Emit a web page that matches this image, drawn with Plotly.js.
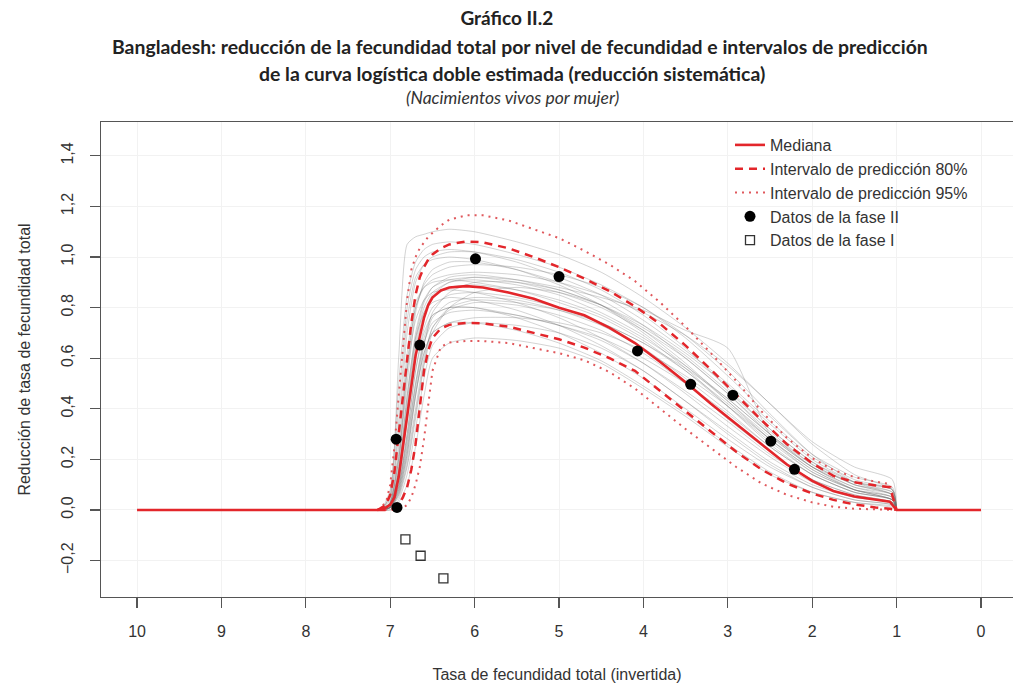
<!DOCTYPE html>
<html>
<head>
<meta charset="utf-8">
<script src="https://cdn.plot.ly/plotly-3.0.1.min.js"></script>
<style>html,body{margin:0;padding:0;background:#fff;overflow:hidden}</style>
</head>
<body>
<div id="chart" style="width:1013px;height:684px"></div>
<script>
// ---------- DATA ----------
const titleLine1 = 'Gráfico II.2';
const titleLine2 = 'Bangladesh: reducción de la fecundidad total por nivel de fecundidad e intervalos de predicción';
const titleLine3 = 'de la curva logística doble estimada (reducción sistemática)';
const subtitle = '(Nacimientos vivos por mujer)';
const xTitle = 'Tasa de fecundidad total (invertida)';
const yTitle = 'Reducción de tasa de fecundidad total';

const xTickVals = [10, 9, 8, 7, 6, 5, 4, 3, 2, 1, 0];
const yTickVals = [-0.2, 0, 0.2, 0.4, 0.6, 0.8, 1.0, 1.2, 1.4];

// Median curve
const medianX = [10, 7.15, 7.05, 7.0, 6.95, 6.9, 6.85, 6.8, 6.75, 6.7, 6.65, 6.6, 6.55, 6.5, 6.4, 6.3, 6.1, 5.9, 5.6, 5.3, 5.0, 4.7, 4.4, 4.1, 3.8, 3.5, 3.2, 2.9, 2.6, 2.3, 2.0, 1.75, 1.5, 1.25, 1.08, 1.0, 0];
const medianY = [0, 0, 0.01, 0.02, 0.05, 0.13, 0.25, 0.38, 0.49, 0.61, 0.69, 0.76, 0.81, 0.84, 0.868, 0.88, 0.885, 0.88, 0.86, 0.835, 0.8, 0.77, 0.72, 0.66, 0.585, 0.505, 0.42, 0.34, 0.26, 0.18, 0.115, 0.075, 0.053, 0.04, 0.033, 0, 0];

// Prediction intervals
const bandX = [7.15, 7.05, 7.0, 6.95, 6.9, 6.85, 6.8, 6.75, 6.7, 6.65, 6.6, 6.55, 6.5, 6.4, 6.3, 6.1, 5.9, 5.6, 5.3, 5.0, 4.7, 4.4, 4.1, 3.8, 3.5, 3.2, 2.9, 2.6, 2.3, 2.0, 1.75, 1.5, 1.25, 1.08, 1.0];
const upper80 = [0, 0.02, 0.06, 0.15, 0.3, 0.45, 0.6, 0.74, 0.85, 0.92, 0.96, 0.99, 1.01, 1.035, 1.05, 1.062, 1.058, 1.035, 1.0, 0.96, 0.915, 0.865, 0.805, 0.735, 0.65, 0.555, 0.455, 0.355, 0.26, 0.185, 0.135, 0.11, 0.097, 0.09, 0];
const lower80 = [0, 0, 0.003, 0.008, 0.02, 0.05, 0.09, 0.16, 0.26, 0.4, 0.55, 0.63, 0.68, 0.718, 0.732, 0.74, 0.738, 0.725, 0.7, 0.675, 0.642, 0.6, 0.55, 0.47, 0.39, 0.31, 0.23, 0.16, 0.105, 0.065, 0.04, 0.022, 0.01, 0.005, 0];
const upper95 = [0, 0.03, 0.1, 0.25, 0.45, 0.65, 0.83, 0.95, 1.0, 1.035, 1.06, 1.08, 1.095, 1.125, 1.148, 1.165, 1.165, 1.145, 1.11, 1.075, 1.025, 0.97, 0.905, 0.82, 0.725, 0.62, 0.51, 0.39, 0.285, 0.205, 0.158, 0.13, 0.112, 0.103, 0];
const lower95 = [0, 0, 0, 0, 0.003, 0.008, 0.02, 0.05, 0.1, 0.17, 0.28, 0.42, 0.55, 0.645, 0.662, 0.668, 0.668, 0.66, 0.64, 0.62, 0.592, 0.545, 0.48, 0.4, 0.32, 0.245, 0.17, 0.105, 0.06, 0.03, 0.013, 0.005, 0.002, 0, 0];

// Observed data
const phase2X = [6.93, 6.92, 6.65, 5.99, 5.0, 4.07, 3.44, 2.94, 2.49, 2.21];
const phase2Y = [0.28, 0.01, 0.652, 0.993, 0.923, 0.629, 0.497, 0.454, 0.272, 0.161];
const phase1X = [6.82, 6.64, 6.37];
const phase1Y = [-0.116, -0.181, -0.27];

// Simulated trajectories (grey)
const simX = [7.1, 7.0, 6.9, 6.8, 6.7, 6.6, 6.5, 6.3, 6.0, 5.5, 5.0, 4.5, 4.0, 3.5, 3.0, 2.5, 2.0, 1.5, 1.05, 1.0];
const simY = [
  [0, 0.06, 0.6, 1.05, 1.08, 1.09, 1.10, 1.11, 1.10, 1.06, 1.01, 0.94, 0.84, 0.72, 0.58, 0.42, 0.27, 0.17, 0.12, 0],
  [0, 0.08, 0.5, 0.85, 0.98, 1.03, 1.05, 1.06, 1.05, 1.01, 0.96, 0.89, 0.8, 0.68, 0.53, 0.37, 0.22, 0.13, 0.09, 0],
  [0, 0.05, 0.3, 0.7, 0.9, 0.97, 1.0, 1.02, 1.02, 0.99, 0.94, 0.87, 0.77, 0.64, 0.48, 0.32, 0.19, 0.11, 0.08, 0],
  [0, 0.03, 0.2, 0.5, 0.78, 0.9, 0.95, 0.98, 0.98, 0.95, 0.9, 0.83, 0.73, 0.6, 0.46, 0.31, 0.18, 0.1, 0.07, 0],
  [0, 0.02, 0.15, 0.42, 0.68, 0.82, 0.88, 0.92, 0.93, 0.91, 0.87, 0.81, 0.72, 0.61, 0.47, 0.32, 0.19, 0.1, 0.06, 0],
  [0, 0.02, 0.12, 0.35, 0.6, 0.76, 0.84, 0.88, 0.89, 0.87, 0.83, 0.77, 0.68, 0.57, 0.44, 0.3, 0.17, 0.09, 0.05, 0],
  [0, 0.01, 0.1, 0.3, 0.55, 0.72, 0.8, 0.85, 0.86, 0.84, 0.8, 0.74, 0.66, 0.55, 0.42, 0.28, 0.16, 0.08, 0.05, 0],
  [0, 0.01, 0.08, 0.25, 0.48, 0.66, 0.76, 0.82, 0.84, 0.83, 0.79, 0.73, 0.64, 0.52, 0.39, 0.25, 0.14, 0.07, 0.04, 0],
  [0, 0.01, 0.06, 0.2, 0.4, 0.6, 0.72, 0.79, 0.82, 0.81, 0.77, 0.71, 0.62, 0.5, 0.36, 0.23, 0.12, 0.06, 0.03, 0],
  [0, 0, 0.04, 0.14, 0.32, 0.52, 0.65, 0.72, 0.74, 0.73, 0.7, 0.64, 0.55, 0.43, 0.3, 0.18, 0.09, 0.04, 0.02, 0],
  [0, 0, 0.03, 0.1, 0.25, 0.45, 0.6, 0.66, 0.68, 0.67, 0.64, 0.58, 0.48, 0.37, 0.25, 0.14, 0.07, 0.03, 0.01, 0],
  [0, 0.02, 0.18, 0.55, 0.8, 0.88, 0.91, 0.93, 0.94, 0.93, 0.9, 0.85, 0.78, 0.69, 0.57, 0.42, 0.26, 0.14, 0.08, 0],
  [0, 0.02, 0.12, 0.38, 0.64, 0.78, 0.85, 0.9, 0.92, 0.91, 0.88, 0.84, 0.79, 0.71, 0.64, 0.3, 0.17, 0.11, 0.08, 0],
  [0, 0.04, 0.35, 0.75, 0.92, 0.97, 0.99, 1.0, 0.99, 0.95, 0.89, 0.81, 0.7, 0.57, 0.43, 0.29, 0.17, 0.09, 0.06, 0],
  [0, 0.01, 0.07, 0.22, 0.45, 0.65, 0.78, 0.86, 0.9, 0.9, 0.87, 0.81, 0.71, 0.58, 0.43, 0.28, 0.15, 0.08, 0.04, 0],
  [0, 0.01, 0.09, 0.28, 0.5, 0.68, 0.77, 0.8, 0.8, 0.77, 0.73, 0.68, 0.6, 0.5, 0.38, 0.25, 0.14, 0.07, 0.04, 0],
  [0, 0.03, 0.25, 0.62, 0.82, 0.88, 0.9, 0.91, 0.9, 0.87, 0.82, 0.76, 0.67, 0.55, 0.41, 0.27, 0.15, 0.08, 0.05, 0],
  [0, 0.01, 0.05, 0.17, 0.36, 0.57, 0.7, 0.8, 0.86, 0.88, 0.86, 0.81, 0.73, 0.62, 0.49, 0.34, 0.2, 0.11, 0.07, 0],
  [0, 0.02, 0.14, 0.4, 0.66, 0.8, 0.86, 0.9, 0.91, 0.89, 0.85, 0.78, 0.69, 0.56, 0.41, 0.26, 0.14, 0.07, 0.04, 0],
  [0, 0.06, 0.42, 0.8, 0.95, 1.0, 1.02, 1.03, 1.02, 0.98, 0.92, 0.85, 0.75, 0.63, 0.5, 0.35, 0.21, 0.12, 0.08, 0],
  [0, 0.01, 0.08, 0.24, 0.46, 0.62, 0.7, 0.74, 0.76, 0.76, 0.74, 0.7, 0.63, 0.53, 0.41, 0.28, 0.16, 0.08, 0.04, 0],
  [0, 0.02, 0.16, 0.45, 0.7, 0.83, 0.88, 0.91, 0.92, 0.9, 0.86, 0.8, 0.71, 0.6, 0.46, 0.3, 0.17, 0.08, 0.04, 0],
  [0, 0.01, 0.06, 0.18, 0.38, 0.58, 0.72, 0.8, 0.83, 0.82, 0.79, 0.74, 0.66, 0.56, 0.44, 0.3, 0.18, 0.1, 0.06, 0],
  [0, 0.03, 0.22, 0.58, 0.8, 0.89, 0.93, 0.96, 0.97, 0.96, 0.93, 0.88, 0.8, 0.69, 0.55, 0.38, 0.22, 0.11, 0.06, 0],
  [0, 0.01, 0.1, 0.3, 0.55, 0.7, 0.77, 0.8, 0.8, 0.76, 0.7, 0.62, 0.52, 0.4, 0.28, 0.17, 0.09, 0.04, 0.02, 0],
  [0, 0.02, 0.15, 0.45, 0.68, 0.78, 0.82, 0.84, 0.83, 0.79, 0.73, 0.65, 0.55, 0.43, 0.31, 0.19, 0.1, 0.05, 0.03, 0],
  [0, 0.01, 0.07, 0.22, 0.45, 0.62, 0.7, 0.74, 0.74, 0.71, 0.66, 0.59, 0.49, 0.38, 0.26, 0.15, 0.07, 0.03, 0.015, 0],
  [0, 0.03, 0.2, 0.55, 0.75, 0.83, 0.86, 0.87, 0.86, 0.82, 0.76, 0.68, 0.58, 0.46, 0.33, 0.21, 0.11, 0.05, 0.03, 0],
  [0, 0.01, 0.09, 0.27, 0.5, 0.66, 0.74, 0.78, 0.79, 0.77, 0.73, 0.67, 0.58, 0.47, 0.35, 0.22, 0.12, 0.06, 0.03, 0]
];

// ---------- STYLE ----------
const RED = '#e3262b';
const AXIS_FONT = 'Liberation Sans, Arial, sans-serif';
const TITLE_FONT = 'Lato, Open Sans, sans-serif';

const traces = [];
simY.forEach(function (ys) {
  traces.push({
    x: simX, y: ys, type: 'scatter', mode: 'lines', showlegend: false, hoverinfo: 'skip',
    line: {color: 'rgba(110,110,110,0.3)', width: 1, shape: 'spline', smoothing: 0.6}
  });
});
traces.push({x: bandX, y: upper95, type: 'scatter', mode: 'lines', name: 'Intervalo de predicción 95%',
  legendgroup: 'g95', legendrank: 3, line: {color: '#e0585c', width: 2, dash: '2px,5px'}});
traces.push({x: bandX, y: lower95, type: 'scatter', mode: 'lines', name: 'Intervalo de predicción 95%',
  legendgroup: 'g95', showlegend: false, line: {color: '#e0585c', width: 2, dash: '2px,5px'}});
traces.push({x: bandX, y: upper80, type: 'scatter', mode: 'lines', name: 'Intervalo de predicción 80%',
  legendgroup: 'g80', legendrank: 2, line: {color: RED, width: 2.5, dash: '8px,6px'}});
traces.push({x: bandX, y: lower80, type: 'scatter', mode: 'lines', name: 'Intervalo de predicción 80%',
  legendgroup: 'g80', showlegend: false, line: {color: RED, width: 2.5, dash: '8px,6px'}});
traces.push({x: medianX, y: medianY, type: 'scatter', mode: 'lines', name: 'Mediana',
  legendgroup: 'gmed', legendrank: 1, line: {color: RED, width: 2.6}});
traces.push({x: phase2X, y: phase2Y, type: 'scatter', mode: 'markers', name: 'Datos de la fase II',
  legendgroup: 'gp2', legendrank: 4, marker: {symbol: 'circle', size: 11, color: '#000'}});
traces.push({x: phase1X, y: phase1Y, type: 'scatter', mode: 'markers', name: 'Datos de la fase I',
  legendgroup: 'gp1', legendrank: 5, marker: {symbol: 'square-open', size: 9, color: '#333', line: {width: 1.3, color: '#333'}}});

const W = 1013, H = 684, L = 101, T = 122, B = 87;
const layout = {
  width: W, height: H,
  margin: {l: L, r: 0, t: T, b: B},
  paper_bgcolor: '#fff', plot_bgcolor: '#fff',
  separators: ',.',
  showlegend: true,
  title: {
    text: '<b>' + titleLine1 + '</b>',
    font: {family: TITLE_FONT, size: 19, color: '#222'},
    xref: 'paper', x: 0.445, xanchor: 'center',
    yref: 'container', y: 1 - 18 / H, yanchor: 'middle'
  },
  annotations: [
    {text: '<b>' + titleLine2 + '</b>', xref: 'paper', yref: 'paper', x: 0.459, y: (597 - 47) / 475,
     xanchor: 'center', yanchor: 'middle', showarrow: false, font: {family: TITLE_FONT, size: 19.4, color: '#222'}},
    {text: '<b>' + titleLine3 + '</b>', xref: 'paper', yref: 'paper', x: 0.451, y: (597 - 73) / 475,
     xanchor: 'center', yanchor: 'middle', showarrow: false, font: {family: TITLE_FONT, size: 19.4, color: '#222'}},
    {text: '<i>' + subtitle + '</i>', xref: 'paper', yref: 'paper', x: 0.451, y: (597 - 98) / 475,
     xanchor: 'center', yanchor: 'middle', showarrow: false, font: {family: TITLE_FONT, size: 17.5, color: '#333'}}
  ],
  xaxis: {
    range: [10.427, -0.379], tickvals: xTickVals, ticktext: xTickVals.map(String),
    ticks: 'outside', ticklen: 10, tickcolor: '#555', tickwidth: 1.2,
    showline: true, mirror: true, linecolor: '#555', linewidth: 1.3,
    showgrid: true, gridcolor: '#f2f2f2', zeroline: false,
    tickfont: {family: AXIS_FONT, size: 16, color: '#333'}, ticklabelstandoff: 9,
    title: {text: xTitle, font: {family: AXIS_FONT, size: 16, color: '#333'}, standoff: 30}
  },
  yaxis: {
    range: [-0.344, 1.534], tickvals: yTickVals, tickformat: '.1f', tickangle: -90,
    ticks: 'outside', ticklen: 10, tickcolor: '#555', tickwidth: 1.2,
    showline: true, mirror: false, linecolor: '#555', linewidth: 1.3,
    showgrid: true, gridcolor: '#f2f2f2', zeroline: false,
    tickfont: {family: AXIS_FONT, size: 16, color: '#333'}, ticklabelstandoff: 10,
    title: {text: yTitle, font: {family: AXIS_FONT, size: 16, color: '#333'}, standoff: 24}
  },
  legend: {
    x: (730 - L) / (W - L), y: (597 - 128) / 475, xanchor: 'left', yanchor: 'top',
    bgcolor: 'rgba(0,0,0,0)', font: {family: AXIS_FONT, size: 16, color: '#333'},
    traceorder: 'grouped', tracegroupgap: 0
  }
};

Plotly.newPlot('chart', traces, layout, {displayModeBar: false, staticPlot: true});
</script>
</body>
</html>
